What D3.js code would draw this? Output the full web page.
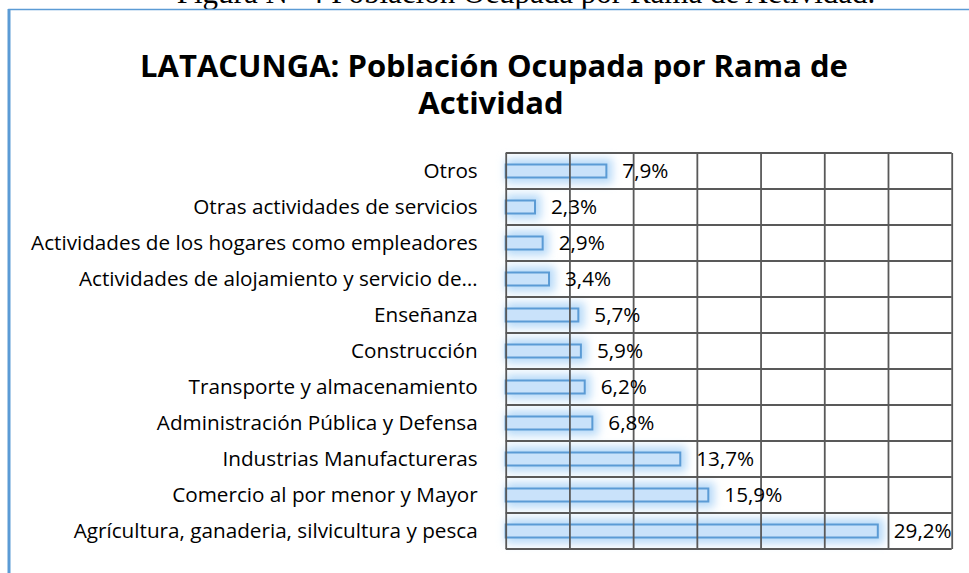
<!DOCTYPE html>
<meta charset="utf-8">
<head>
	<title>LATACUNGA: Población Ocupada por Rama de Actividad</title>
	<style>
	body { margin: 0; background: #fff; }
	.cat text, .val { font-family: "Open Sans", sans-serif; font-size: 20.7px; fill: #000; }
	.grid line, .grid path { stroke: #595959; stroke-width: 1.8; }
	</style>
</head>
<body>
<script src="https://cdn.jsdelivr.net/npm/d3@7"></script>
<script>

	// data, top row first
	var categories = [
		"Otros",
		"Otras actividades de servicios",
		"Actividades de los hogares como empleadores",
		"Actividades de alojamiento y servicio de…",
		"Enseñanza",
		"Construcción",
		"Transporte y almacenamiento",
		"Administración Pública y Defensa",
		"Industrias Manufactureras",
		"Comercio al por menor y Mayor",
		"Agrícultura, ganaderia, silvicultura y pesca"
	];
	var values = [7.9, 2.3, 2.9, 3.4, 5.7, 5.9, 6.2, 6.8, 13.7, 15.9, 29.2];
	var xTicks = [0, 5, 10, 15, 20, 25, 30, 35];

	var W = 969, H = 573;
	var plot = {left: 505.7, right: 951.7, top: 153, bottom: 549};

	var svg = d3.select("body").append("svg")
		.attr("width", W)
		.attr("height", H);

	var defs = svg.append("defs");
	defs.append("filter").attr("id", "glow")
		.attr("x", "-20%").attr("y", "-150%").attr("width", "140%").attr("height", "400%")
		.append("feGaussianBlur").attr("stdDeviation", 4);

	// caption from the page above, mostly cut off
	svg.append("text")
		.attr("x", 526).attr("y", 3)
		.attr("text-anchor", "middle")
		.style("font-family", "'Liberation Serif', serif")
		.style("font-size", "31px")
		.text("Figura N° 4 Población Ocupada por Rama de Actividad.");

	// chart border
	svg.append("rect")
		.attr("x", 9).attr("y", 9.5)
		.attr("width", 2000).attr("height", 2000)
		.attr("fill", "none")
		.attr("stroke", "#5b9bd5")
		.attr("stroke-width", 1.5);
	svg.append("line")
		.attr("x1", 9).attr("x2", 9).attr("y1", 9).attr("y2", H)
		.attr("stroke", "#5b9bd5").attr("stroke-width", 3);

	// title
	var title = svg.append("text")
		.attr("text-anchor", "middle")
		.style("font-family", "'Open Sans', sans-serif")
		.style("font-weight", "bold")
		.style("font-size", "31px");
	title.append("tspan").attr("x", 494).attr("y", 77).text("LATACUNGA: Población Ocupada por Rama de");
	title.append("tspan").attr("x", 491).attr("y", 114).text("Actividad");

	var x = d3.scaleLinear()
		.domain([0, 35])
		.range([plot.left, plot.right]);

	var y = d3.scaleBand()
		.domain(categories)
		.range([plot.top, plot.bottom])
		.padding(0);

	var barH = 13;
	var rows = categories.map(function(c, i) { return {cat: c, v: values[i]}; });

	// glow behind bars
	svg.append("g").selectAll("rect")
		.data(rows)
		.enter().append("rect")
		.attr("x", x(0))
		.attr("y", function(d) { return y(d.cat) + y.bandwidth() / 2 - barH / 2 - 6; })
		.attr("width", function(d) { return x(d.v) - x(0) + 6; })
		.attr("height", barH + 12)
		.attr("fill", "#b8daf8")
		.attr("filter", "url(#glow)");

	// bars
	svg.append("g").selectAll("rect")
		.data(rows)
		.enter().append("rect")
		.attr("x", x(0))
		.attr("y", function(d) { return y(d.cat) + y.bandwidth() / 2 - barH / 2; })
		.attr("width", function(d) { return x(d.v) - x(0); })
		.attr("height", barH)
		.attr("fill", "#c9e2fa")
		.attr("stroke", "#5b9bd5")
		.attr("stroke-width", 2);

	// vertical grid from x axis
	svg.append("g")
		.attr("class", "grid")
		.attr("transform", "translate(0," + plot.bottom + ")")
		.call(d3.axisBottom(x).tickValues(xTicks).tickSize(-(plot.bottom - plot.top)).tickFormat(""))
		.call(function(g) { g.select(".domain").remove(); });

	// horizontal grid between rows
	svg.append("g").attr("class", "grid")
		.selectAll("line")
		.data(categories.concat([null]))
		.enter().append("line")
		.attr("x1", plot.left).attr("x2", plot.right)
		.attr("y1", function(d) { return d === null ? plot.bottom : y(d); })
		.attr("y2", function(d) { return d === null ? plot.bottom : y(d); });

	// category labels
	svg.append("g")
		.attr("class", "cat")
		.attr("transform", "translate(" + plot.left + ",0)")
		.call(d3.axisLeft(y).tickSize(0).tickPadding(28))
		.call(function(g) { g.select(".domain").remove(); });

	// value labels
	var fmt = function(v) { return d3.format(".1f")(v).replace(".", ",") + "%"; };
	svg.append("g").selectAll("text")
		.data(rows)
		.enter().append("text")
		.attr("class", "val")
		.attr("x", function(d) { return x(d.v) + 16; })
		.attr("y", function(d) { return y(d.cat) + y.bandwidth() / 2; })
		.attr("dy", "0.35em")
		.text(function(d) { return fmt(d.v); });

</script>
</body>
